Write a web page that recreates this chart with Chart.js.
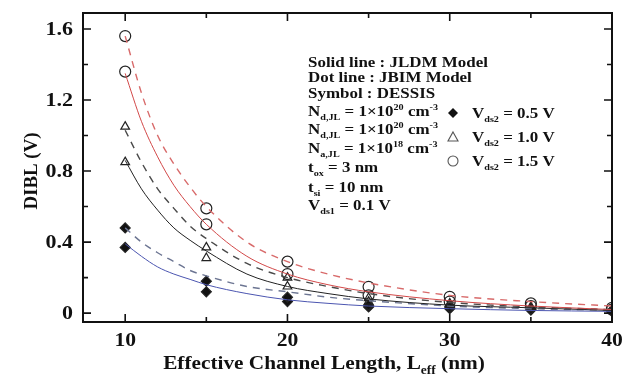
<!DOCTYPE html>
<html>
<head>
<meta charset="utf-8">
<script src="https://cdn.jsdelivr.net/npm/chart.js@4.4.0/dist/chart.umd.min.js"></script>
<style>
  html, body { margin: 0; padding: 0; background: #fff; }
  #wrap { width: 630px; height: 379px; position: relative; }
</style>
</head>
<body>
<div id="wrap"><canvas id="dibl"></canvas></div>
<script>
// simulation symbols (DESSIS), two runs per drain bias
const symX = [10, 15, 20, 25, 30, 35, 40];
const dia1 = [0.48, 0.18, 0.09, 0.045, 0.035, 0.022, 0.015];
const dia2 = [0.37, 0.12, 0.065, 0.035, 0.025, 0.017, 0.01];
const tri1 = [1.05, 0.37, 0.20, 0.085, 0.055, 0.035, 0.02];
const tri2 = [0.85, 0.31, 0.15, 0.065, 0.045, 0.03, 0.015];
const cir1 = [1.56, 0.59, 0.29, 0.148, 0.092, 0.055, 0.03];
const cir2 = [1.36, 0.50, 0.22, 0.10, 0.065, 0.04, 0.02];

// model curves
const curveX = [10, 11, 12, 13, 14, 15, 17.5, 20, 22.5, 25, 30, 35, 40];
const jldm05 = [0.39, 0.32, 0.26, 0.22, 0.19, 0.16, 0.11, 0.075, 0.055, 0.04, 0.025, 0.015, 0.01];
const jbim05 = [0.48, 0.40, 0.34, 0.29, 0.24, 0.21, 0.15, 0.12, 0.09, 0.07, 0.04, 0.025, 0.015];
const jldm10 = [0.86, 0.70, 0.58, 0.48, 0.41, 0.35, 0.22, 0.15, 0.11, 0.08, 0.045, 0.03, 0.015];
const jbim10 = [1.03, 0.85, 0.70, 0.59, 0.49, 0.42, 0.28, 0.20, 0.15, 0.11, 0.06, 0.035, 0.02];
const jldm15 = [1.35, 1.08, 0.88, 0.72, 0.60, 0.50, 0.32, 0.22, 0.16, 0.12, 0.07, 0.04, 0.02];
const jbim15 = [1.56, 1.24, 1.00, 0.84, 0.71, 0.60, 0.40, 0.29, 0.22, 0.17, 0.10, 0.065, 0.04];

const xTicks = [10, 20, 30, 40];
const xMinor = [15, 25, 35];
const yTicks = [0, 0.4, 0.8, 1.2, 1.6];
const yMinor = [0.2, 0.6, 1.0, 1.4];

const legendLabels = ['0.5 V', '1.0 V', '1.5 V'];

const FONT = '"Liberation Serif", "Times New Roman", serif';
const STRETCH = 1.13; // the scan's lettering is wider than Liberation Serif

function pts(xs, ys) {
  return xs.map((x, i) => ({ x: x, y: ys[i] }));
}

function curve(ys, color, dashed) {
  return {
    type: 'scatter',
    data: pts(curveX, ys),
    showLine: true,
    borderColor: color,
    borderWidth: dashed ? 1.4 : 1,
    borderDash: dashed ? [7, 6] : [],
    pointRadius: 0,
    cubicInterpolationMode: 'monotone',
    fill: false
  };
}

function symbols(ys, style, radius, filled) {
  return {
    type: 'scatter',
    data: pts(symX, ys),
    pointStyle: style,
    pointRadius: radius,
    pointBorderWidth: 1.2,
    borderColor: '#222',
    backgroundColor: filled ? '#111' : 'rgba(0,0,0,0)'
  };
}

// draw text with sub/superscript runs, returns end x
function drawRuns(ctx, x, y, runs, size, sx) {
  sx = sx || STRETCH;
  for (const r of runs) {
    const kind = r[1];
    const s = kind === 'n' ? size : Math.round(size * 0.62);
    let dy = 0;
    if (kind === 'sub') dy = size * 0.25;
    if (kind === 'sup') dy = -size * 0.38;
    ctx.font = 'bold ' + s + 'px ' + FONT;
    ctx.save();
    ctx.translate(x, y + dy);
    ctx.scale(sx, 1);
    ctx.fillText(r[0], 0, 0);
    ctx.restore();
    x += ctx.measureText(r[0]).width * sx;
  }
  return x;
}

function runsWidth(ctx, runs, size, sx) {
  sx = sx || STRETCH;
  let w = 0;
  for (const r of runs) {
    const s = r[1] === 'n' ? size : Math.round(size * 0.62);
    ctx.font = 'bold ' + s + 'px ' + FONT;
    w += ctx.measureText(r[0]).width * sx;
  }
  return w;
}

const notes = [
  [['Solid line : JLDM Model', 'n']],
  [['Dot line : JBIM Model', 'n']],
  [['Symbol : DESSIS', 'n']],
  [['N', 'n'], ['d,JL', 'sub'], [' = 1\u00d710', 'n'], ['20', 'sup'], [' cm', 'n'], ['-3', 'sup']],
  [['N', 'n'], ['d,JL', 'sub'], [' = 1\u00d710', 'n'], ['20', 'sup'], [' cm', 'n'], ['-3', 'sup']],
  [['N', 'n'], ['a,JL', 'sub'], [' = 1\u00d710', 'n'], ['18', 'sup'], [' cm', 'n'], ['-3', 'sup']],
  [['t', 'n'], ['ox', 'sub'], [' = 3 nm', 'n']],
  [['t', 'n'], ['si', 'sub'], [' = 10 nm', 'n']],
  [['V', 'n'], ['ds1', 'sub'], [' = 0.1 V', 'n']]
];
const noteY = [62, 77, 93, 111, 129, 148, 167, 187, 205];

const framePlugin = {
  id: 'frame',
  afterDraw(chart) {
    const ctx = chart.ctx;
    const a = chart.chartArea;
    const xs = chart.scales.x;
    const ys = chart.scales.y;
    ctx.save();
    ctx.strokeStyle = '#111';
    ctx.lineWidth = 2;
    ctx.strokeRect(a.left, a.top, a.right - a.left, a.bottom - a.top);

    ctx.lineWidth = 1.6;
    ctx.beginPath();
    xTicks.concat(xMinor).forEach(v => {
      const len = xTicks.includes(v) ? 8 : 5;
      const px = xs.getPixelForValue(v);
      ctx.moveTo(px, a.bottom); ctx.lineTo(px, a.bottom - len);
      ctx.moveTo(px, a.top); ctx.lineTo(px, a.top + len);
    });
    yTicks.concat(yMinor).forEach(v => {
      const len = yTicks.includes(v) ? 8 : 5;
      const py = ys.getPixelForValue(v);
      ctx.moveTo(a.left, py); ctx.lineTo(a.left + len, py);
      ctx.moveTo(a.right, py); ctx.lineTo(a.right - len, py);
    });
    ctx.stroke();

    ctx.fillStyle = '#111';
    ctx.textBaseline = 'alphabetic';
    ctx.textAlign = 'left';

    // tick labels
    yTicks.forEach(v => {
      const t = v === 0 ? '0' : v.toFixed(1);
      const run = [[t, 'n']];
      const w = runsWidth(ctx, run, 18, 1.22);
      drawRuns(ctx, 73 - w, ys.getPixelForValue(v) + 6, run, 18, 1.22);
    });
    xTicks.forEach(v => {
      const run = [[String(v), 'n']];
      const w = runsWidth(ctx, run, 18, 1.2);
      drawRuns(ctx, xs.getPixelForValue(v) - w / 2, 346, run, 18, 1.2);
    });

    // axis titles
    ctx.save();
    ctx.translate(37, 171);
    ctx.rotate(-Math.PI / 2);
    const yt = [['DIBL (V)', 'n']];
    const yw = runsWidth(ctx, yt, 18, 1.05);
    drawRuns(ctx, -yw / 2, 0, yt, 18, 1.05);
    ctx.restore();

    const xt = [['Effective Channel Length, L', 'n'], ['eff', 'sub'], [' (nm)', 'n']];
    const w = runsWidth(ctx, xt, 19, 1.12);
    drawRuns(ctx, 324 - w / 2, 369, xt, 19, 1.12);

    // notes
    notes.forEach((line, i) => drawRuns(ctx, 308, noteY[i] + 5, line, 15));

    // legend
    const legY = [113, 137, 161];
    const lx = 453;
    ctx.lineWidth = 1.1;
    ctx.fillStyle = '#111';
    ctx.beginPath();
    ctx.moveTo(lx, legY[0] - 5); ctx.lineTo(lx + 5, legY[0]);
    ctx.lineTo(lx, legY[0] + 5); ctx.lineTo(lx - 5, legY[0]);
    ctx.closePath(); ctx.fill();
    ctx.strokeStyle = '#555';
    ctx.beginPath();
    ctx.moveTo(lx, legY[1] - 5); ctx.lineTo(lx + 5, legY[1] + 4); ctx.lineTo(lx - 5, legY[1] + 4);
    ctx.closePath(); ctx.stroke();
    ctx.beginPath();
    ctx.arc(lx, legY[2], 5, 0, Math.PI * 2);
    ctx.stroke();
    ctx.fillStyle = '#111';
    legendLabels.forEach((t, i) => {
      drawRuns(ctx, 472, legY[i] + 5, [['V', 'n'], ['ds2', 'sub'], [' = ' + t, 'n']], 15);
    });
    ctx.restore();
  }
};

const ctx = document.getElementById('dibl').getContext('2d');
new Chart(ctx, {
  type: 'scatter',
  data: {
    datasets: [
      curve(jbim15, '#d86a6a', true),
      curve(jldm15, '#d24848', false),
      curve(jbim10, '#4a4a4a', true),
      curve(jldm10, '#222', false),
      curve(jbim05, '#6c7592', true),
      curve(jldm05, '#4b55b0', false),
      symbols(cir1, 'circle', 5.5, false),
      symbols(cir2, 'circle', 5.5, false),
      symbols(tri1, 'triangle', 5, false),
      symbols(tri2, 'triangle', 5, false),
      symbols(dia1, 'rectRot', 5, true),
      symbols(dia2, 'rectRot', 5, true)
    ]
  },
  options: {
    responsive: true,
    maintainAspectRatio: false,
    animation: false,
    layout: { padding: { top: 13, right: 18, left: 0, bottom: 0 } },
    plugins: {
      legend: { display: false },
      tooltip: { enabled: false }
    },
    scales: {
      x: {
        type: 'linear',
        min: 7.4,
        max: 40,
        afterFit: s => { s.height = 57; },
        afterBuildTicks: s => { s.ticks = xTicks.map(v => ({ value: v })); },
        grid: { display: false, drawTicks: false },
        border: { display: false },
        ticks: { display: false }
      },
      y: {
        type: 'linear',
        min: -0.05,
        max: 1.69,
        afterFit: s => { s.width = 83; },
        afterBuildTicks: s => { s.ticks = yTicks.map(v => ({ value: v })); },
        grid: { display: false, drawTicks: false },
        border: { display: false },
        ticks: { display: false }
      }
    }
  },
  plugins: [framePlugin]
});
</script>
</body>
</html>
